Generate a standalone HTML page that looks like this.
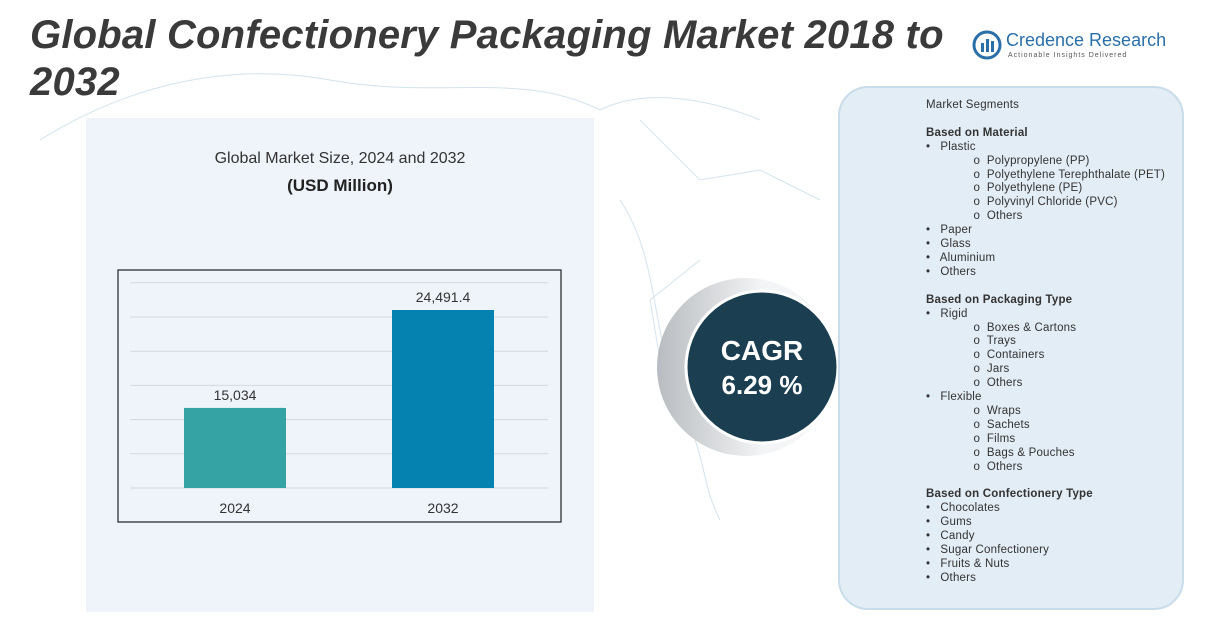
<!DOCTYPE html>
<html><head><meta charset="utf-8">
<style>
body{margin:0;width:1208px;height:626px;overflow:hidden;background:#fff;font-family:"Liberation Sans",sans-serif;position:relative}
.abs{position:absolute}
#title{left:30px;top:12px;font-size:40px;font-weight:bold;font-style:italic;color:#3a3a3a;line-height:47px;width:945px;letter-spacing:0.2px}
#leftpanel{left:86px;top:118px;width:508px;height:494px;background:#eef4f9}
#rp{left:838px;top:86px;width:346px;height:524px;background:#e3edf5;border:2px solid #c9dcea;border-radius:30px;box-sizing:border-box}
#seg{left:926px;top:99px;font-size:11.5px;color:#333;line-height:13.9px;white-space:pre;letter-spacing:0.2px}
#seg b{font-weight:bold}
</style></head><body>
<svg class="abs" style="left:0;top:0" width="1208" height="626">
<g fill="none" stroke="#d3e3ee" stroke-width="1">
<path d="M40 140 C120 90 220 60 330 80 S520 70 600 110 M600 110 C640 90 700 95 760 120 M620 200 C660 260 650 330 680 400 S700 480 720 520 M640 120 L700 180 L760 170 L820 200 M700 260 L650 300 L660 360 L700 430"/>
</g></svg>
<div id="leftpanel" class="abs"></div>
<div id="title" class="abs">Global Confectionery Packaging Market 2018 to 2032</div>
<div class="abs" style="left:972px;top:30px;">
<svg width="30" height="30" style="position:absolute;left:0;top:0"><circle cx="15" cy="15" r="13" fill="none" stroke="#2a6fa8" stroke-width="3"/><rect x="9" y="13" width="3" height="9" fill="#2a6fa8"/><rect x="14" y="9" width="3" height="13" fill="#2a6fa8"/><rect x="19" y="11" width="3" height="11" fill="#2a6fa8"/></svg>
<div style="position:absolute;left:34px;top:0;font-size:18px;color:#2a6fa8;white-space:nowrap">Credence Research</div>
<div style="position:absolute;left:36px;top:22px;font-size:7px;color:#555;letter-spacing:1px;white-space:nowrap">Actionable Insights Delivered</div>
</div>
<div class="abs" style="left:86px;top:150px;width:508px;text-align:center;font-size:16px;color:#333">Global Market Size, 2024 and 2032</div>
<div class="abs" style="left:86px;top:176px;width:508px;text-align:center;font-size:17px;font-weight:bold;color:#222">(USD Million)</div>
<svg id="chart" class="abs" style="left:0;top:0" width="1208" height="626"></svg>
<svg class="abs" style="left:650px;top:270px" width="200" height="200">
<defs><linearGradient id="g" x1="0" x2="1"><stop offset="0" stop-color="#b8bcc0"/><stop offset="0.6" stop-color="#f4f5f6"/></linearGradient></defs>
<circle cx="96" cy="97" r="89" fill="url(#g)"/>
<circle cx="112" cy="97" r="76" fill="#1b3f51" stroke="#fff" stroke-width="3"/>
<text x="112" y="90" text-anchor="middle" fill="#fff" font-size="28" font-weight="bold" font-family="Liberation Sans,sans-serif">CAGR</text>
<text x="112" y="124" text-anchor="middle" fill="#fff" font-size="26" font-weight="bold" font-family="Liberation Sans,sans-serif">6.29 %</text>
</svg>
<div id="rp" class="abs"></div>
<div id="seg" class="abs">Market Segments

<b>Based on Material</b>
•   Plastic
              o  Polypropylene (PP)
              o  Polyethylene Terephthalate (PET)
              o  Polyethylene (PE)
              o  Polyvinyl Chloride (PVC)
              o  Others
•   Paper
•   Glass
•   Aluminium
•   Others

<b>Based on Packaging Type</b>
•   Rigid
              o  Boxes &amp; Cartons
              o  Trays
              o  Containers
              o  Jars
              o  Others
•   Flexible
              o  Wraps
              o  Sachets
              o  Films
              o  Bags &amp; Pouches
              o  Others

<b>Based on Confectionery Type</b>
•   Chocolates
•   Gums
•   Candy
•   Sugar Confectionery
•   Fruits &amp; Nuts
•   Others</div>
<script>
const categories=["2024","2032"];
const values=[15034,24491.4];
const labels=["15,034","24,491.4"];
const colors=["#35a3a4","#0682b1"];
const NS="http://www.w3.org/2000/svg";
const svg=document.getElementById('chart');
const y0=488,yMin=7300,pxPer=178/(24491.4-7300);
function yScale(v){return y0-(v-yMin)*pxPer;}
function xCenter(i){return 235+i*208;}
function mk(t,a){const e=document.createElementNS(NS,t);for(const k in a)e.setAttribute(k,a[k]);svg.appendChild(e);return e;}
const frame=mk('rect',{x:118,y:270,width:443,height:252,fill:'#eef4f9',stroke:'#222','stroke-width':1.2});


for(let k=0;k<7;k++){const yy=488-k*34.2;const l=mk('line',{x1:130,x2:548,y1:yy,y2:yy,stroke:'#d4d8dc','stroke-width':1});

}
values.forEach((v,i)=>{
const yt=yScale(v);
const r=mk('rect',{x:xCenter(i)-51,y:yt,width:102,height:y0-yt,fill:colors[i]});


const t=mk('text',{x:xCenter(i),y:yt-8,'text-anchor':'middle','font-size':14,fill:'#333','font-family':'Liberation Sans,sans-serif'});t.textContent=labels[i];


const c=mk('text',{x:xCenter(i),y:513,'text-anchor':'middle','font-size':14,fill:'#333','font-family':'Liberation Sans,sans-serif'});c.textContent=categories[i];


});
</script>
</body></html>
